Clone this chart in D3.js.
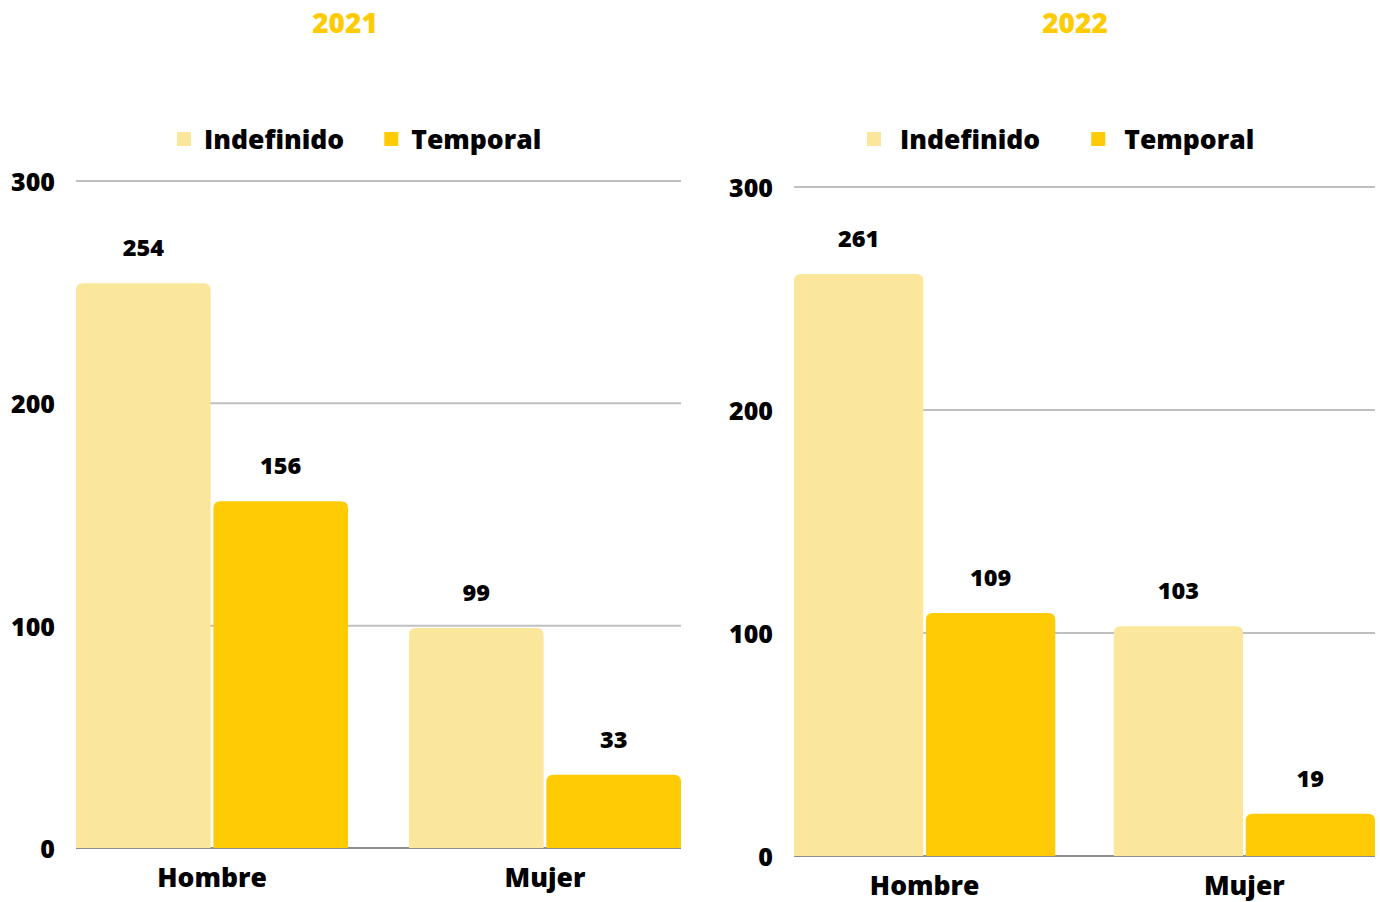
<!DOCTYPE html>
<html>
<head>
<meta charset="utf-8">
<script src="https://d3js.org/d3.v7.min.js"></script>
<style>
  body { margin: 0; background: #fff; }
  text { font-family: "Open Sans", sans-serif; font-weight: 800; }
</style>
</head>
<body>
<script>
// data
var years = ["2021", "2022"];
var categories = ["Hombre", "Mujer"];
var seriesNames = ["Indefinido", "Temporal"];
var indefinido2021 = [254, 99];
var temporal2021 = [156, 33];
var indefinido2022 = [261, 103];
var temporal2022 = [109, 19];
var yTicks = [0, 100, 200, 300];

var colors = ["#fbe79b", "#fecb05"];

var width = 1380, height = 902;

// layout of each panel
var panels = [
  { year: years[0], series: [indefinido2021, temporal2021], left: 76, right: 681, top: 181, bottom: 848,
    titleX: 345, legendX: 177, legendText: 27, legendGap: 40 },
  { year: years[1], series: [indefinido2022, temporal2022], left: 794, right: 1375, top: 187, bottom: 856,
    titleX: 1075, legendX: 867, legendText: 33, legendGap: 51 }
];

var svg = d3.select("body").append("svg")
  .attr("width", width)
  .attr("height", height);

panels.forEach(function (p) {
  var g = svg.append("g");

  var y = d3.scaleLinear().domain([0, 300]).range([p.bottom, p.top]);
  var x0 = d3.scaleBand().domain(categories).range([p.left, p.right]).paddingInner(0.183).paddingOuter(0);
  var x1 = d3.scaleBand().domain(seriesNames).range([0, x0.bandwidth()]).paddingInner(0.02);

  // title
  g.append("text")
    .attr("x", p.titleX).attr("y", 22)
    .attr("text-anchor", "middle").attr("dominant-baseline", "central")
    .attr("fill", colors[1]).style("font-size", "28px")
    .text(p.year);

  // legend
  var lx = p.legendX;
  seriesNames.forEach(function (s, i) {
    var item = g.append("g").attr("transform", "translate(" + lx + ",139)");
    item.append("rect").attr("x", 0).attr("y", -7).attr("width", 14).attr("height", 14).attr("fill", colors[i]);
    var t = item.append("text").attr("x", p.legendText).attr("y", 0)
      .attr("dominant-baseline", "central").style("font-size", "26.5px").attr("fill", "#000")
      .text(s);
    lx += p.legendText + t.node().getComputedTextLength() + p.legendGap;
  });

  // grid lines
  g.selectAll(".grid").data(yTicks.filter(function (d) { return d > 0; })).enter()
    .append("line")
    .attr("x1", p.left).attr("x2", p.right)
    .attr("y1", function (d) { return y(d); }).attr("y2", function (d) { return y(d); })
    .attr("stroke", "#c0c0c0").attr("stroke-width", 2);

  // baseline
  g.append("line")
    .attr("x1", p.left).attr("x2", p.right)
    .attr("y1", y(0)).attr("y2", y(0))
    .attr("stroke", "#666").attr("stroke-width", 1.5);

  // y tick labels
  g.selectAll(".ytick").data(yTicks).enter()
    .append("text")
    .attr("x", p.left - 21).attr("y", function (d) { return y(d); })
    .attr("text-anchor", "end").attr("dominant-baseline", "central")
    .style("font-size", "25px").attr("fill", "#000")
    .text(function (d) { return d; });

  // bars
  var rows = [];
  categories.forEach(function (c, ci) {
    seriesNames.forEach(function (s, si) {
      rows.push({ cat: c, ser: s, si: si, value: p.series[si][ci] });
    });
  });

  var r = 7;
  g.selectAll(".bar").data(rows).enter()
    .append("path")
    .attr("fill", function (d) { return colors[d.si]; })
    .attr("d", function (d) {
      var bx = x0(d.cat) + x1(d.ser), bw = x1.bandwidth();
      var by = y(d.value), bb = y(0);
      return "M" + bx + "," + bb +
        "V" + (by + r) +
        "Q" + bx + "," + by + " " + (bx + r) + "," + by +
        "H" + (bx + bw - r) +
        "Q" + (bx + bw) + "," + by + " " + (bx + bw) + "," + (by + r) +
        "V" + bb + "Z";
    });

  // value labels
  g.selectAll(".val").data(rows).enter()
    .append("text")
    .attr("x", function (d) { return x0(d.cat) + x1(d.ser) + x1.bandwidth() / 2; })
    .attr("y", function (d) { return y(d.value) - 36; })
    .attr("text-anchor", "middle").attr("dominant-baseline", "central")
    .style("font-size", "23.5px").attr("fill", "#000")
    .text(function (d) { return d.value; });

  // category labels
  g.selectAll(".cat").data(categories).enter()
    .append("text")
    .attr("x", function (d) { return x0(d) + x0.bandwidth() / 2; })
    .attr("y", p.bottom + 29)
    .attr("text-anchor", "middle").attr("dominant-baseline", "central")
    .style("font-size", "26.5px").attr("fill", "#000")
    .text(function (d) { return d; });
});
</script>
</body>
</html>
